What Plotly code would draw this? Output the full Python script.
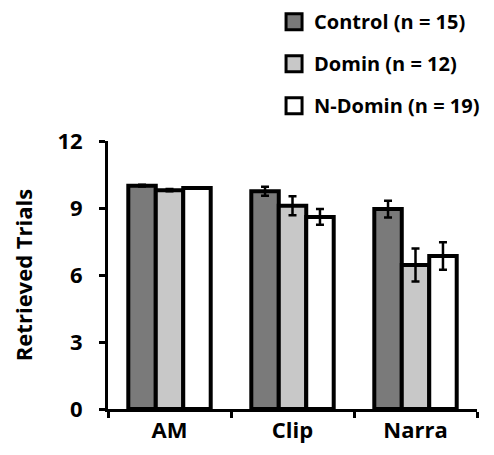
import plotly.graph_objects as go

categories = ["AM", "Clip", "Narra"]
series_names = ["Control (n = 15)", "Domin (n = 12)", "N-Domin (n = 19)"]
control = [10.0, 9.75, 8.95]
domin = [9.8, 9.1, 6.45]
ndomin = [9.9, 8.6, 6.85]
control_err = [0.04, 0.2, 0.38]
domin_err = [0.05, 0.43, 0.74]
ndomin_err = [0.03, 0.35, 0.62]
y_ticks = [0, 3, 6, 9, 12]

colors = ["#7a7a7a", "#c8c8c8", "#ffffff"]
FONT = "Open Sans"

fig = go.Figure()
for i, (name, vals, errs) in enumerate(zip(series_names, [control, domin, ndomin],
                                           [control_err, domin_err, ndomin_err])):
    fig.add_trace(go.Bar(
        x=categories, y=vals, name=name, legendgroup=f"g{i}", showlegend=False,
        marker=dict(color=colors[i], line=dict(color="black", width=4)),
        error_y=dict(type="data", array=errs, visible=True, color="black",
                     thickness=2.5, width=4),
    ))
    # legend-only entry with a larger square swatch
    fig.add_trace(go.Scatter(
        x=[None], y=[None], mode="markers", name=name, legendgroup=f"g{i}",
        marker=dict(symbol="square", size=16, color=colors[i],
                    line=dict(color="black", width=3)),
    ))

fig.update_layout(
    width=486, height=447,
    margin=dict(l=100, r=17, t=133, b=46, autoexpand=False),
    paper_bgcolor="white", plot_bgcolor="white",
    barmode="group", bargap=0.33, bargroupgap=0,
    font=dict(family=FONT, color="black"),
    showlegend=True,
    legend=dict(x=0.45, xanchor="left", xref="paper",
                y=1.518, yanchor="top", yref="paper",
                font=dict(family=FONT, size=20, color="black", weight="bold"),
                tracegroupgap=13, itemwidth=30, bgcolor="rgba(0,0,0,0)"),
    xaxis=dict(showline=True, linecolor="black", linewidth=3,
               ticks="outside", ticklen=6, tickwidth=3, tickcolor="black",
               tickson="boundaries",
               tickfont=dict(family=FONT, size=22, color="black", weight="bold"),
               showgrid=False, zeroline=False),
    yaxis=dict(range=[0, 12], tickvals=y_ticks, showline=True, linecolor="black", linewidth=3,
               ticks="outside", ticklen=6, tickwidth=3, tickcolor="black",
               ticklabelstandoff=12,
               tickfont=dict(family=FONT, size=22, color="black", weight="bold"),
               title=dict(text="Retrieved Trials", standoff=36,
                          font=dict(family=FONT, size=22, color="black", weight="bold")),
               showgrid=False, zeroline=False),
)

fig.write_html("out.html")
